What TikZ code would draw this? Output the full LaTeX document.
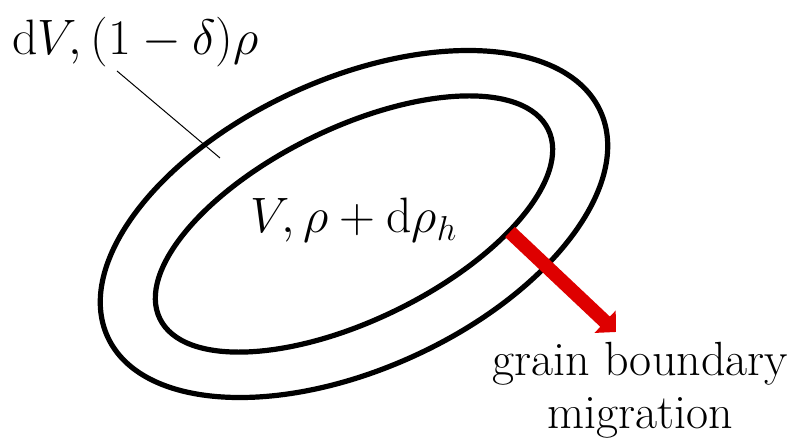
\documentclass[tikz,border=0pt]{standalone}
\usetikzlibrary{arrows.meta}
\definecolor{gbred}{RGB}{222,0,0}
\begin{document}
\begin{tikzpicture}[x=0.5pt,y=0.5pt,
  grain/.style={line width=2.6pt},
  lbl/.style={font=\fontsize{23}{26.5}\selectfont,inner sep=0pt}]
\useasboundingbox (0,0) rectangle (792,438);
\coordinate (C) at (354,214);
% grain and its shell
\draw[grain,rotate around={24.6:(C)}] (C) ellipse [x radius=271, y radius=145];
\draw[grain,rotate around={26:(C)}] (C) ellipse [x radius=216, y radius=96];
\node[lbl,anchor=base west] (shell) at (12,383) {$\mathrm{d}V,(1-\delta)\rho$};
\node[lbl,anchor=base west] (core) at (250,205) {$V,\rho+\mathrm{d}\rho_h$};
\coordinate (leadA) at (117,367);
\coordinate (leadB) at (220,280);
\draw[line width=0.5pt] (leadA) -- (leadB);
% migration arrow
\coordinate (gbA) at (510,206);
\coordinate (gbB) at (616,106);
\draw[gbred,line width=7pt,-{Triangle[length=7.5pt,width=15pt]}] (gbA) -- (gbB);
\node[lbl,font=\fontsize{24}{26.5}\selectfont,align=center] (mig) at (640,48) {grain boundary\\migration};
\end{tikzpicture}
\end{document}
